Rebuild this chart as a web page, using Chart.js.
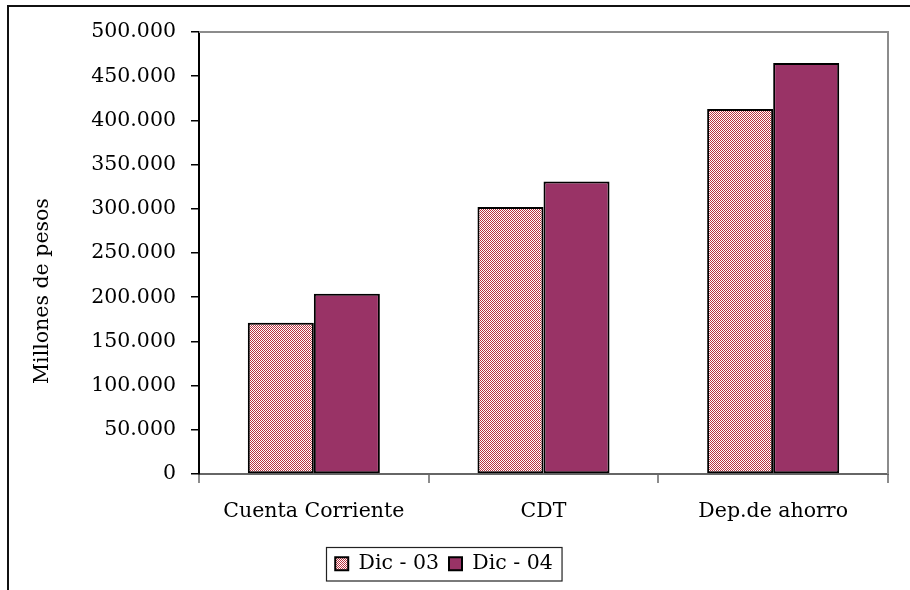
<!DOCTYPE html>
<html>
<head>
<meta charset="utf-8">
<script src="https://cdn.jsdelivr.net/npm/chart.js@4"></script>
<style>
  html, body { margin: 0; padding: 0; background: #fff; overflow: hidden; }
  #marco { position: absolute; left: 7px; top: 5px; width: 1000px; height: 700px;
           border-top: 2px solid #111; border-left: 2px solid #111; }
  #wrap { position: absolute; left: 0; top: 0; width: 910px; height: 590px; }
</style>
</head>
<body>
<div id="marco"></div>
<div id="wrap"><canvas id="grafica" width="910" height="590"></canvas></div>
<script>
const categorias = ["Cuenta Corriente", "CDT", "Dep.de ahorro"];
const series = ["Dic - 03", "Dic - 04"];
const dic03 = [171000, 302000, 413000];
const dic04 = [204000, 331000, 465000];
const ticksY = { min: 0, max: 500000, paso: 50000 };

const fuente = "'DejaVu Serif', serif";
const tam = 20.5;

function trama() {
  const c = document.createElement("canvas");
  c.width = 2; c.height = 2;
  const g = c.getContext("2d");
  g.fillStyle = "#ffffff";
  g.fillRect(0, 0, 2, 2);
  g.fillStyle = "#b8323f";
  g.fillRect(0, 0, 1, 1);
  g.fillRect(1, 1, 1, 1);
  return g.createPattern(c, "repeat");
}

function miles(v) {
  return String(v).replace(/\B(?=(\d{3})+(?!\d))/g, ".");
}

const extras = {
  id: "extras",
  afterDraw(chart) {
    const ctx = chart.ctx;
    const a = chart.chartArea;
    ctx.save();
    // borde gris arriba y a la derecha del area
    ctx.strokeStyle = "#8c8c8c";
    ctx.lineWidth = 2;
    ctx.beginPath();
    ctx.moveTo(a.left, a.top);
    ctx.lineTo(a.right, a.top);
    ctx.lineTo(a.right, a.bottom);
    ctx.stroke();

    // titulo del eje
    ctx.fillStyle = "#000";
    ctx.font = tam + "px " + fuente;
    ctx.textAlign = "center";
    ctx.textBaseline = "middle";
    ctx.translate(43, 291);
    ctx.rotate(-Math.PI / 2);
    ctx.fillText("Millones de pesos", 0, 0);
    ctx.restore();

    // marco de la leyenda
    const hb = chart.legend.legendHitBoxes;
    if (hb && hb.length) {
      const l = Math.min(...hb.map(h => h.left)) - 9;
      const r = Math.max(...hb.map(h => h.left + h.width)) + 9;
      const t = Math.min(...hb.map(h => h.top)) - 7;
      const b = Math.max(...hb.map(h => h.top + h.height)) + 6;
      ctx.save();
      ctx.strokeStyle = "#222";
      ctx.lineWidth = 1.2;
      ctx.strokeRect(Math.round(l) + 0.5, Math.round(t) + 0.5, r - l, b - t);
      ctx.restore();
    }
  }
};

new Chart(document.getElementById("grafica"), {
  type: "bar",
  data: {
    labels: categorias,
    datasets: [
      {
        label: series[0],
        data: dic03,
        backgroundColor: trama(),
        borderColor: "#000",
        borderWidth: 2,
        borderSkipped: false
      },
      {
        label: series[1],
        data: dic04,
        backgroundColor: "#993366",
        borderColor: "#000",
        borderWidth: 2,
        borderSkipped: false
      }
    ]
  },
  options: {
    responsive: false,
    animation: false,
    events: [],
    categoryPercentage: 0.575,
    barPercentage: 1.0,
    layout: { padding: { left: 0, right: 22, top: 32, bottom: 6 } },
    plugins: {
      tooltip: { enabled: false },
      legend: {
        position: "bottom",
        labels: {
          color: "#000",
          font: { family: fuente, size: tam },
          boxWidth: 13,
          boxHeight: 13,
          padding: 10
        }
      }
    },
    scales: {
      x: {
        afterFit(scale) {
          scale.height = 590 - 6 - scale.chart.legend.height - 474;
        },
        grid: {
          offset: true,
          drawOnChartArea: false,
          drawTicks: true,
          tickLength: 9,
          color: "#8c8c8c",
          lineWidth: 2
        },
        border: { color: "#666", width: 2 },
        ticks: {
          color: "#000",
          font: { family: fuente, size: tam },
          padding: 16,
          maxRotation: 0
        }
      },
      y: {
        min: ticksY.min,
        max: ticksY.max,
        afterFit(scale) { scale.width = 199; },
        grid: {
          drawOnChartArea: false,
          tickLength: 8,
          color: "#000",
          lineWidth: 1.5
        },
        border: { color: "#000", width: 2 },
        ticks: {
          stepSize: ticksY.paso,
          color: "#000",
          font: { family: fuente, size: tam },
          padding: 15,
          callback: v => miles(v)
        }
      }
    }
  },
  plugins: [extras]
});
</script>
</body>
</html>
